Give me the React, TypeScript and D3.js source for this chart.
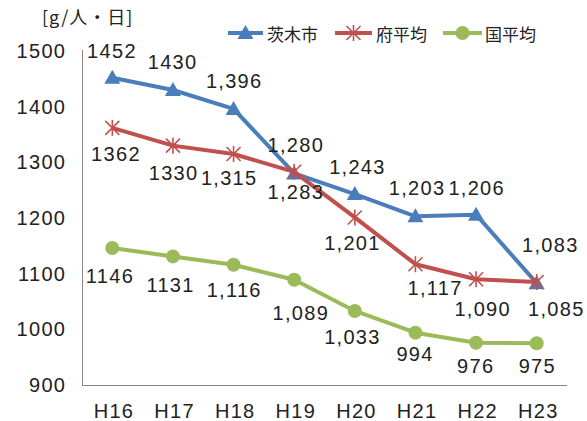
import React from "react";
import * as d3 from "d3";

const categories = ["H16", "H17", "H18", "H19", "H20", "H21", "H22", "H23"];
const ibarakiValues = [1452, 1430, 1396, 1280, 1243, 1203, 1206, 1083];
const fuValues = [1362, 1330, 1315, 1283, 1201, 1117, 1090, 1085];
const kokuValues = [1146, 1131, 1116, 1089, 1033, 994, 976, 975];
const yTicks = [900, 1000, 1100, 1200, 1300, 1400, 1500];
const seriesNames = ["茨木市", "府平均", "国平均"];
// indices whose data labels are shown without thousands separator (as in source)
const ibarakiPlain = [0, 1];
const fuPlain = [0, 1];
const kokuPlain = [0, 1];
const unitLabel = "[g/人・日]";

// label offsets (layout)
const ibarakiOff: [number, number][] = [[-1, -27], [-1, -28], [0, -28], [1, -28], [2, -27], [1, -28], [0, -27], [13, -38]];
const fuOff: [number, number][] = [[3, 26], [0, 27], [-5, 24], [1, 20], [-3, 26], [19, 24], [6, 30], [19, 27]];
const kokuOff: [number, number][] = [[-3, 28], [-3, 29], [0, 25], [6, 33], [-3, 26], [-1, 21], [-1, 23], [0, 23]];

const W = 587, H = 421;
const BLUE = "#4A7EBB", RED = "#C0504D", GREEN = "#9BBB59";
const FONT = "'Liberation Sans', Arial, sans-serif";
const JFONT = "'Noto Sans CJK JP', 'DejaVu Sans', sans-serif";
const LS = 1.3;
const FS = 20;

const x = d3.scaleBand<string>().domain(categories).range([82, 567]);
const y = d3.scaleLinear().domain([900, 1500]).range([385, 51]);
const cx = (c: string) => (x(c) as number) + x.bandwidth() / 2;
const fmtComma = d3.format(",");

function Tri({ px, py, color }: { px: number; py: number; color: string }) {
  const s = 8;
  return <path d={`M${px},${py - s} L${px + s},${py + s * 0.75} L${px - s},${py + s * 0.75} Z`} fill={color} />;
}
function Star({ px, py, color }: { px: number; py: number; color: string }) {
  const s = 7;
  return (
    <g stroke={color} strokeWidth={1.6}>
      <line x1={px - s} y1={py - s} x2={px + s} y2={py + s} />
      <line x1={px - s} y1={py + s} x2={px + s} y2={py - s} />
      <line x1={px} y1={py - s - 1} x2={px} y2={py + s + 1} />
    </g>
  );
}
function Dot({ px, py, color }: { px: number; py: number; color: string }) {
  return <circle cx={px} cy={py} r={7} fill={color} />;
}

const series = [
  { name: seriesNames[0], values: ibarakiValues, color: BLUE, Marker: Tri, plain: ibarakiPlain, off: ibarakiOff },
  { name: seriesNames[1], values: fuValues, color: RED, Marker: Star, plain: fuPlain, off: fuOff },
  { name: seriesNames[2], values: kokuValues, color: GREEN, Marker: Dot, plain: kokuPlain, off: kokuOff },
];

const legendPos = [
  { x1: 228, x2: 263, tx: 267 },
  { x1: 335, x2: 372, tx: 376 },
  { x1: 443, x2: 482, tx: 485 },
];

export default function App() {
  const line = d3
    .line<number>()
    .x((_, i) => cx(categories[i]))
    .y((v) => y(v));

  const txt = { fontFamily: FONT, fontSize: FS, letterSpacing: LS, fill: "#222" };

  return (
    <svg width={W} height={H} style={{ position: "absolute", left: 0, top: 0, background: "#fff" }}>
      <rect width={W} height={H} fill="#fff" />
      {/* unit */}
      <text x={42} y={16} fontFamily={JFONT} fontSize={18} fill="#222" dominantBaseline="central" letterSpacing={1}>
        {unitLabel}
      </text>
      {/* axes */}
      <line x1={82.5} y1={50} x2={82.5} y2={385.5} stroke="#868686" strokeWidth={1} />
      <line x1={82} y1={385.5} x2={567} y2={385.5} stroke="#868686" strokeWidth={1} />
      {yTicks.map((t) => (
        <text key={t} x={65 + LS} y={y(t)} textAnchor="end" dominantBaseline="central" {...txt}>
          {t}
        </text>
      ))}
      {categories.map((c) => (
        <text key={c} x={cx(c) + 1 + LS / 2} y={411} textAnchor="middle" dominantBaseline="central" {...txt}>
          {c}
        </text>
      ))}
      {/* series */}
      {series.map((s) => (
        <g key={s.name}>
          <path d={line(s.values) || ""} fill="none" stroke={s.color} strokeWidth={4} strokeLinejoin="round" />
          {s.values.map((v, i) => (
            <s.Marker key={i} px={cx(categories[i])} py={y(v)} color={s.color} />
          ))}
        </g>
      ))}
      {/* data labels */}
      {series.map((s) =>
        s.values.map((v, i) => (
          <text
            key={s.name + i}
            x={cx(categories[i]) + s.off[i][0] + LS / 2}
            y={y(v) + s.off[i][1]}
            textAnchor="middle"
            dominantBaseline="central"
            {...txt}
          >
            {s.plain.includes(i) ? String(v) : fmtComma(v)}
          </text>
        ))
      )}
      {/* legend */}
      {series.map((s, i) => {
        const p = legendPos[i];
        return (
          <g key={"lg" + i}>
            <line x1={p.x1} y1={33} x2={p.x2} y2={33} stroke={s.color} strokeWidth={4} />
            <s.Marker px={(p.x1 + p.x2) / 2} py={33} color={s.color} />
            <text x={p.tx} y={33} dominantBaseline="central" fontFamily={JFONT} fontSize={17} fill="#222">
              {s.name}
            </text>
          </g>
        );
      })}
    </svg>
  );
}
